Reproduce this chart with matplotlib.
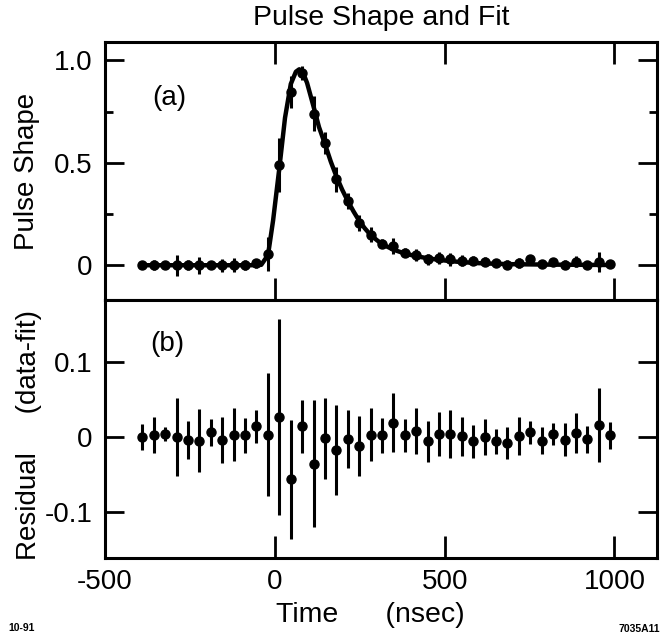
import matplotlib.pyplot as plt

plt.rcParams['font.family'] = ['Liberation Sans', 'DejaVu Sans']

# sample times (nsec)
time = [-390, -356, -323, -289, -256, -222, -188, -155, -121, -88, -54, -20,
        13, 47, 80, 114, 148, 181, 215, 248, 282, 316, 349, 383, 416, 450,
        484, 517, 551, 584, 618, 652, 685, 719, 752, 786, 820, 853, 887, 920,
        954, 988]

# measured pulse shape
pulse = [0.0, 0.0, 0.0, 0.0, 0.0, 0.0, 0.0, 0.0, 0.0, 0.002, 0.01, 0.055,
         0.49, 0.845, 0.94, 0.74, 0.595, 0.42, 0.315, 0.205, 0.15, 0.105,
         0.095, 0.06, 0.05, 0.03, 0.035, 0.03, 0.022, 0.022, 0.018, 0.012,
         0.003, 0.012, 0.028, 0.008, 0.018, 0.003, 0.018, 0.003, 0.015, 0.004]

# residual (data - fit)
resid = [0.0, 0.002, 0.004, 0.0, -0.004, -0.005, 0.006, -0.004, 0.003, 0.002,
         0.014, 0.003, 0.027, -0.057, 0.014, -0.036, -0.002, -0.018, -0.003,
         -0.012, 0.003, 0.002, 0.019, 0.002, 0.008, -0.006, 0.004, 0.004,
         0.001, -0.006, 0.0, -0.006, -0.008, 0.001, 0.006, -0.005, 0.004,
         -0.004, 0.005, -0.003, 0.016, 0.002]

# errors
err = [0.017, 0.024, 0.009, 0.052, 0.025, 0.042, 0.018, 0.031, 0.035, 0.023,
       0.022, 0.082, 0.131, 0.079, 0.035, 0.085, 0.054, 0.06, 0.039, 0.040,
       0.035, 0.023, 0.039, 0.022, 0.031, 0.027, 0.029, 0.032, 0.026, 0.022,
       0.024, 0.017, 0.021, 0.025, 0.015, 0.018, 0.015, 0.022, 0.027, 0.018,
       0.049, 0.018]

# fit curve
fit_t = [-390, -60, -40, -20, -5, 13, 30, 47, 62, 72, 82, 95, 114, 130, 148,
         165, 181, 198, 215, 232, 248, 265, 282, 300, 316, 349, 383, 416, 450,
         484, 517, 551, 600, 650, 700, 800, 900, 988]
fit_v = [0.0, 0.0, 0.002, 0.05, 0.22, 0.47, 0.72, 0.885, 0.945, 0.957, 0.945,
         0.89, 0.775, 0.675, 0.59, 0.505, 0.435, 0.37, 0.313, 0.262, 0.218,
         0.18, 0.148, 0.123, 0.103, 0.076, 0.057, 0.044, 0.034, 0.026, 0.02,
         0.015, 0.01, 0.007, 0.005, 0.003, 0.002, 0.001]

fig = plt.figure(figsize=(6.71, 6.37), dpi=100)
ax1 = fig.add_axes([0.1565, 0.529, 0.8225, 0.405])
ax2 = fig.add_axes([0.1565, 0.124, 0.8225, 0.405])

fs = 20

# (a) pulse shape and fit
ax1.plot(fit_t, fit_v, color='k', lw=3.2, solid_joinstyle='round')
ax1.errorbar(time, pulse, yerr=err, fmt='o', color='k', ms=6.5,
             elinewidth=2.2, capsize=0)
ax1.set_xlim(-500, 1125)
ax1.set_ylim(-0.17, 1.09)
ax1.set_xticks([-500, 0, 500, 1000])
ax1.set_yticks([0, 0.5, 1.0])
ax1.set_yticklabels(['0', '0.5', '1.0'])
ax1.set_yticks([0.25, 0.75], minor=True)
ax1.tick_params(axis='x', direction='in', top=True, bottom=True,
                labelbottom=False, length=16, width=2)
ax1.tick_params(axis='y', which='major', direction='in', left=True,
                right=True, length=14, width=2, labelsize=fs, pad=9)
ax1.tick_params(axis='y', which='minor', direction='in', left=True,
                right=True, length=6, width=2)
ax1.set_ylabel('Pulse Shape', fontsize=fs)
ax1.yaxis.set_label_coords(-0.118, 0.5)
ax1.set_title('Pulse Shape and Fit', fontsize=20.5, pad=12)
ax1.text(0.085, 0.785, '(a)', transform=ax1.transAxes, fontsize=fs,
         va='center')

# (b) residuals
ax2.errorbar(time, resid, yerr=err, fmt='o', color='k', ms=6.5,
             elinewidth=2.2, capsize=0)
ax2.set_xlim(-500, 1125)
ax2.set_ylim(-0.162, 0.183)
ax2.set_xticks([-500, 0, 500, 1000])
ax2.set_xticklabels(['-500', '0', '500', '1000'])
ax2.set_yticks([-0.1, 0, 0.1])
ax2.set_yticklabels(['-0.1', '0', '0.1'])
ax2.tick_params(axis='x', direction='in', top=False, bottom=True,
                length=16, width=2, labelsize=fs, pad=8)
ax2.tick_params(axis='y', direction='in', left=True, right=True,
                length=14, width=2, labelsize=fs, pad=9)
ax2.set_ylabel('Residual     (data-fit)', fontsize=fs)
ax2.yaxis.set_label_coords(-0.114, 0.477)
ax2.set_xlabel('Time      (nsec)', fontsize=20.5)
ax2.xaxis.set_label_coords(0.48, -0.17)
ax2.text(0.0815, 0.831, '(b)', transform=ax2.transAxes, fontsize=fs,
         va='center')

for ax in (ax1, ax2):
    for sp in ax.spines.values():
        sp.set_linewidth(2.2)

fig.text(0.012, 0.014, '10-91', fontsize=7.5, fontweight='bold', va='center')
fig.text(0.922, 0.012, '7035A11', fontsize=7.5, fontweight='bold', va='center')

plt.savefig('out.png', dpi=100)
